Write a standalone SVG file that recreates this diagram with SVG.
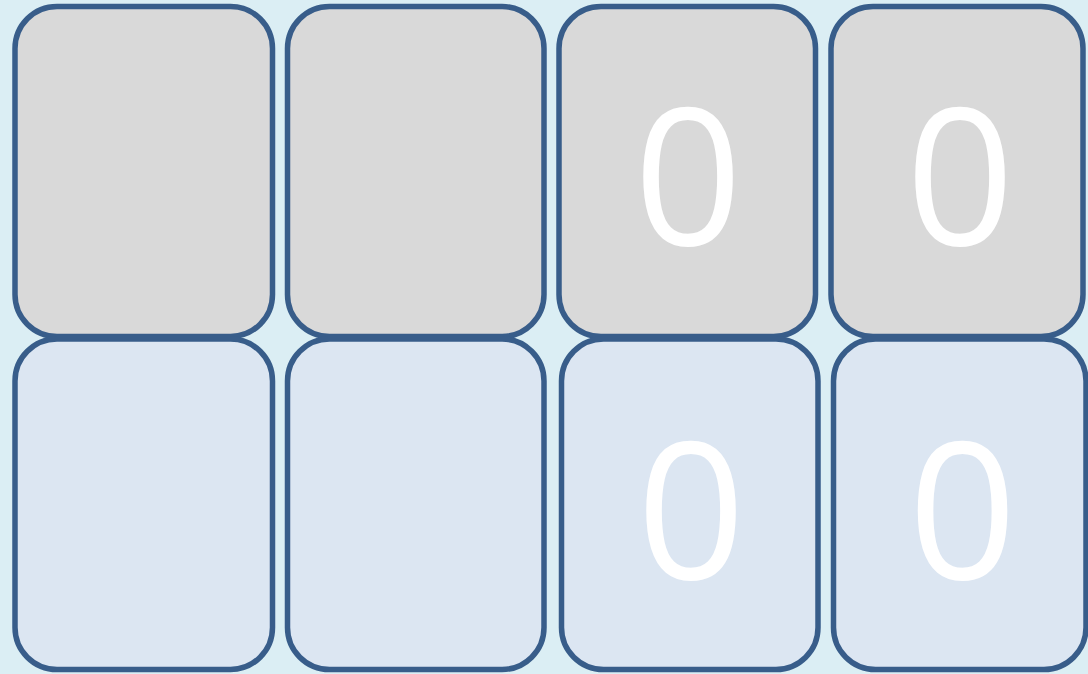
<svg xmlns="http://www.w3.org/2000/svg" width="1088" height="674" viewBox="0 0 1088 674">
<style>
.box{stroke:#385d8a;stroke-width:5.5}
.top{fill:#d9d9d9}
.bot{fill:#dce6f2}
.num{font-family:"Open Sans","Noto Sans",sans-serif;font-size:190px;fill:#ffffff;text-anchor:middle}
</style>
<rect x="0" y="0" width="1088" height="674" fill="#dbeef4"/>
<g id="connectors"/>
<g id="n1"><rect class="box top" x="15" y="6.5" width="257.5" height="330" rx="42"/></g>
<g id="n2"><rect class="box top" x="287.5" y="6.5" width="256.5" height="330" rx="42"/></g>
<g id="n3"><rect class="box top" x="559" y="6.5" width="256.5" height="330" rx="42"/><text class="num" x="688" y="245">0</text></g>
<g id="n4"><rect class="box top" x="831" y="6.5" width="252" height="330" rx="42"/><text class="num" x="960" y="245">0</text></g>
<g id="n5"><rect class="box bot" x="15" y="339" width="257.5" height="330.5" rx="42"/></g>
<g id="n6"><rect class="box bot" x="287.5" y="339" width="256.5" height="330.5" rx="42"/></g>
<g id="n7"><rect class="box bot" x="561.5" y="339" width="256.5" height="330.5" rx="42"/><text class="num" x="691" y="579">0</text></g>
<g id="n8"><rect class="box bot" x="833.5" y="339" width="252.5" height="330.5" rx="42"/><text class="num" x="962.5" y="579">0</text></g>
</svg>
